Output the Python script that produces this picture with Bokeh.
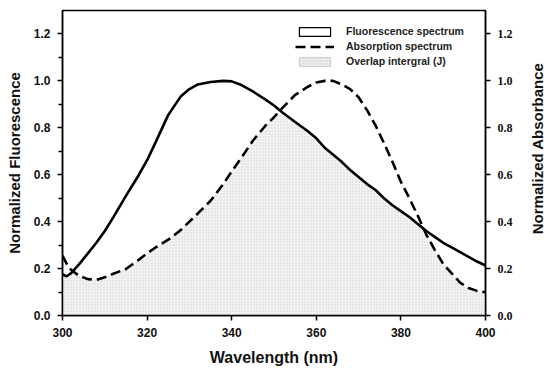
import math
import numpy as np
from bokeh.plotting import figure
from bokeh.layouts import row
from bokeh.core.properties import value
from bokeh.models import (Range1d, LinearAxis, FixedTicker, PrintfTickFormatter,
                          Legend, LegendItem, ColumnDataSource, Title)
from bokeh.embed import file_html
from bokeh.resources import INLINE

wavelength = [300, 301, 302, 304, 306, 308, 310, 312, 315, 318, 320, 322, 325, 328, 330,
              332, 335, 338, 340, 342, 345, 348, 350, 352, 355, 358, 360, 362, 364, 366,
              368, 370, 372, 374, 376, 378, 380, 382, 384, 386, 388, 390, 392, 394, 396,
              398, 400]
fluorescence = [0.175, 0.167, 0.180, 0.220, 0.265, 0.310, 0.360, 0.418, 0.510, 0.598, 0.662,
                0.738, 0.855, 0.935, 0.965, 0.985, 0.995, 1.000, 0.998, 0.985, 0.955, 0.920,
                0.895, 0.865, 0.825, 0.785, 0.755, 0.715, 0.685, 0.655, 0.620, 0.590, 0.560,
                0.535, 0.500, 0.470, 0.445, 0.420, 0.390, 0.360, 0.335, 0.310, 0.290, 0.270,
                0.250, 0.230, 0.213]
absorption = [0.255, 0.220, 0.195, 0.168, 0.155, 0.152, 0.163, 0.178, 0.198, 0.237, 0.265,
              0.290, 0.323, 0.365, 0.400, 0.435, 0.489, 0.560, 0.614, 0.665, 0.745, 0.810,
              0.845, 0.885, 0.940, 0.975, 0.993, 1.000, 1.000, 0.985, 0.965, 0.930, 0.875,
              0.810, 0.735, 0.655, 0.570, 0.500, 0.425, 0.345, 0.280, 0.220, 0.180, 0.140,
              0.117, 0.105, 0.099]

x_ticks = [300, 320, 340, 360, 380, 400]
y_ticks = [0.0, 0.2, 0.4, 0.6, 0.8, 1.0, 1.2]
y_minor = [0.1, 0.3, 0.5, 0.7, 0.9, 1.1]
right_title = ["Normalized Absorbance"]

overlap = np.minimum(np.array(fluorescence), np.array(absorption))
src = ColumnDataSource(dict(x=wavelength, f=fluorescence, a=absorption, o=overlap,
                            z=[0.0] * len(wavelength)))

p = figure(width=527, height=372, output_backend="svg", toolbar_location=None,
           x_range=Range1d(300, 400), y_range=Range1d(0, 1.3),
           min_border_left=62, min_border_right=42, min_border_top=10, min_border_bottom=57)
p.extra_y_ranges = {"abs": Range1d(0, 1.3)}
p.xgrid.visible = False
p.ygrid.visible = False
p.outline_line_color = "black"
p.outline_line_width = 1.5

ov = p.varea(x="x", y1="z", y2="o", source=src, fill_color="#f3f3f3",
             hatch_pattern="dot", hatch_color="#d2d2d2", hatch_scale=3, hatch_weight=1)
p.line(x="x", y="f", source=src, line_color="black", line_width=2.6)
ab = p.line(x="x", y="a", source=src, line_color="black", line_width=2.6,
            line_dash="10 5", y_range_name="abs")

# legend proxies (drawn outside the visible x range)
proxy = ColumnDataSource(dict(l=[0], r=[1], b=[0], t=[1]))
fl_proxy = p.quad(left="l", right="r", bottom="b", top="t", source=proxy,
                  fill_color="white", line_color="black", line_width=1.2)
ov_proxy = p.quad(left="l", right="r", bottom="b", top="t", source=proxy,
                  fill_color="#ececec", line_color="#cccccc", line_width=1,
                  hatch_pattern="dot", hatch_color="#d0d0d0", hatch_scale=3)

legend = Legend(items=[
    LegendItem(label="Fluorescence spectrum", renderers=[fl_proxy]),
    LegendItem(label="Absorption spectrum", renderers=[ab]),
    LegendItem(label="Overlap intergral (J)", renderers=[ov_proxy]),
], location=(233, 248), orientation="vertical")
legend.border_line_color = None
legend.background_fill_alpha = 0
legend.padding = 0
legend.margin = 0
legend.spacing = 3
legend.glyph_width = 39
legend.glyph_height = 11
legend.label_height = 11
legend.label_standoff = 12
legend.label_text_font = "Liberation Sans"
legend.label_text_font_size = "10.5px"
legend.label_text_font_style = "bold"
legend.label_text_color = "#222222"
p.add_layout(legend, "center")

# axes
xa = p.xaxis[0]
xa.ticker = FixedTicker(ticks=x_ticks)
ya = p.yaxis[0]
ya.ticker = FixedTicker(ticks=y_ticks, minor_ticks=y_minor)
ya.formatter = PrintfTickFormatter(format="%.1f")
ya.axis_label = "Normalized Fluorescence"
for ax in (xa, ya):
    ax.axis_line_width = 1.5
    ax.major_tick_line_width = 1.5
    ax.minor_tick_line_width = 1.5
    ax.major_tick_out = 5
    ax.major_tick_in = 0
    ax.minor_tick_out = 4
    ax.minor_tick_in = 0
    ax.major_label_text_font = "Liberation Sans"
    ax.major_label_text_font_style = "bold"
    ax.major_label_text_font_size = "12px"
    ax.major_label_text_color = "#111111"
    ax.axis_label_text_font = "Liberation Sans"
    ax.axis_label_text_font_style = "bold"
    ax.axis_label_text_color = "#111111"
ya.axis_label_text_font_size = "15px"
xa.major_label_standoff = 7
ya.major_label_standoff = 7
ya.axis_label_standoff = 8

ra = LinearAxis(y_range_name="abs", ticker=FixedTicker(ticks=y_ticks, minor_ticks=[]),
                formatter=PrintfTickFormatter(format="%.1f"))
ra.axis_line_width = 1.5
ra.major_tick_line_width = 1.5
ra.major_tick_out = 5
ra.major_tick_in = 0
ra.minor_tick_out = 0
ra.minor_tick_in = 0
ra.major_label_text_font = "Liberation Serif"
ra.major_label_text_font_style = "bold"
ra.major_label_text_font_size = "12px"
ra.major_label_text_color = "#111111"
ra.major_label_standoff = 7
p.add_layout(ra, "right")

# x axis title in the bottom margin
xt = Title(text="Wavelength (nm)", align="center", text_font="Liberation Sans",
           text_font_style="bold", text_font_size="16px", text_color="#111111",
           standoff=14, offset=0)
p.add_layout(xt, "below")

# right axis title, reading bottom to top, in a narrow side strip
side = figure(width=19, height=372, output_backend="svg", toolbar_location=None,
              x_range=Range1d(0, 1), y_range=Range1d(0, 1),
              min_border_left=0, min_border_right=0, min_border_top=0, min_border_bottom=0)
side.axis.visible = False
side.xgrid.visible = False
side.ygrid.visible = False
side.outline_line_color = None
side.text(x=[0.5], y=[0.548], text=right_title, angle=math.pi / 2,
          text_align="center", text_baseline="middle", text_font=value("Liberation Sans"),
          text_font_style="bold", text_font_size="15px", text_color="#111111")

layout = row(p, side, spacing=0)
open("out.html", "w").write(file_html(layout, INLINE))
